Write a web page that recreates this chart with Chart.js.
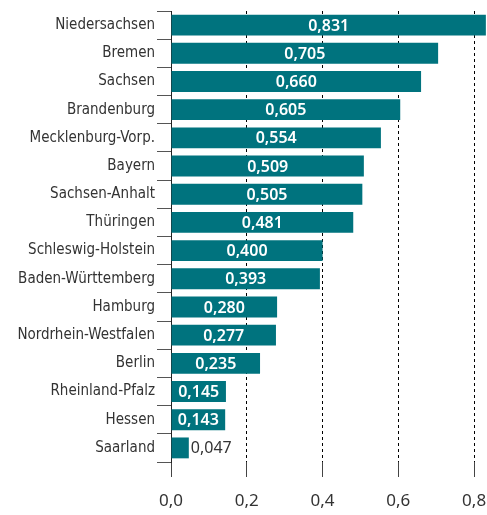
<!DOCTYPE html>
<html>
<head>
<meta charset="utf-8">
<script src="https://cdn.jsdelivr.net/npm/chart.js@4"></script>
<style>
    html, body { margin: 0; padding: 0; background: #fff; }
    #wrap { width: 487px; height: 515px; position: relative; }
</style>
</head>
<body>
<div id="wrap"><canvas id="chart"></canvas></div>
<script>
// Data
const states = ['Niedersachsen', 'Bremen', 'Sachsen', 'Brandenburg', 'Mecklenburg-Vorp.', 'Bayern',
    'Sachsen-Anhalt', 'Thüringen', 'Schleswig-Holstein', 'Baden-Württemberg', 'Hamburg',
    'Nordrhein-Westfalen', 'Berlin', 'Rheinland-Pfalz', 'Hessen', 'Saarland'];
const values = [0.831, 0.705, 0.660, 0.605, 0.554, 0.509, 0.505, 0.481, 0.400, 0.393, 0.280,
    0.277, 0.235, 0.145, 0.143, 0.047];
const xTicks = [0, 0.2, 0.4, 0.6, 0.8];

const barColor = '#00737e';
const textColor = '#333333';
const fontFamily = '"Noto Sans", "Open Sans", sans-serif';
const narrowFont = '"DejaVu Sans Condensed", "Noto Sans", sans-serif';

const fmt = v => v.toFixed(3).replace('.', ',');

// value labels inside (white) or just right of the bar (dark)
const valueLabels = {
    id: 'valueLabels',
    afterDatasetsDraw(chart) {
        const ctx = chart.ctx;
        const meta = chart.getDatasetMeta(0);
        ctx.save();
        ctx.textBaseline = 'middle';
        meta.data.forEach((bar, i) => {
            const txt = fmt(values[i]);
            ctx.font = '600 16px ' + fontFamily;
            const w = ctx.measureText(txt).width;
            const barW = bar.x - bar.base;
            if (barW > w + 6) {
                ctx.fillStyle = '#ffffff';
                ctx.textAlign = 'center';
                ctx.fillText(txt, (bar.x + bar.base) / 2, bar.y + 1);
            } else {
                ctx.font = '16px ' + fontFamily;
                ctx.fillStyle = textColor;
                ctx.textAlign = 'left';
                ctx.fillText(txt, bar.x + 2, bar.y + 1);
            }
        });
        ctx.restore();
    }
};

const ctx = document.getElementById('chart').getContext('2d');
new Chart(ctx, {
    type: 'bar',
    data: {
        labels: states,
        datasets: [{
            data: values,
            backgroundColor: barColor,
            borderWidth: 0,
            barPercentage: 0.74,
            categoryPercentage: 1
        }]
    },
    options: {
        indexAxis: 'y',
        responsive: true,
        maintainAspectRatio: false,
        animation: false,
        layout: { padding: { top: 8, right: 0, left: 0, bottom: 0 } },
        plugins: {
            legend: { display: false },
            tooltip: { enabled: false }
        },
        scales: {
            x: {
                min: 0,
                max: 0.834,
                afterBuildTicks: axis => {
                    axis.ticks = xTicks.map(v => ({ value: v }));
                },
                afterFit: axis => {
                    axis.height = 53;
                    axis.paddingLeft = 0;
                    axis.paddingRight = 0;
                },
                grid: {
                    color: '#000',
                    lineWidth: 1,
                    tickLength: 15,
                    tickColor: '#444',
                    tickBorderDash: []
                },
                border: { display: false, dash: [3, 3] },
                ticks: {
                    color: textColor,
                    padding: 14,
                    font: { family: fontFamily, size: 17 },
                    callback: v => v.toFixed(1).replace('.', ',')
                }
            },
            y: {
                afterFit: axis => { axis.width = 171; },
                grid: {
                    offset: true,
                    drawOnChartArea: false,
                    tickLength: 14,
                    tickColor: '#555'
                },
                border: { display: true, color: '#222', width: 1 },
                ticks: {
                    color: textColor,
                    padding: 2,
                    autoSkip: false,
                    font: { family: narrowFont, size: 15 }
                }
            }
        }
    },
    plugins: [valueLabels]
});
</script>
</body>
</html>
